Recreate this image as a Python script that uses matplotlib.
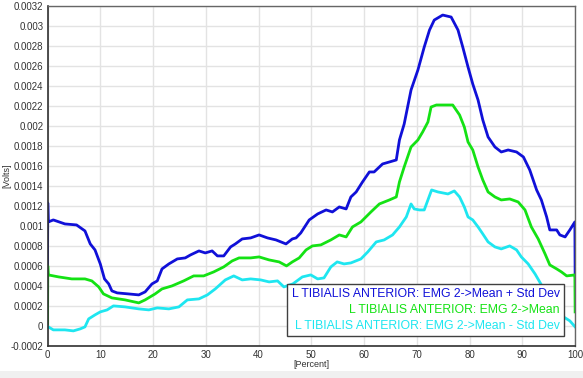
import matplotlib
matplotlib.use("Agg")
import matplotlib.pyplot as plt
from matplotlib.patches import Rectangle
from matplotlib.ticker import FuncFormatter

# mean + std dev
plus_x = [0, 0.05, 0.15, 1.1, 3.3, 5.5, 7.1, 8.1, 9.0, 10.0, 10.8, 11.6, 12.2, 13.2, 15.3, 17.3,
          18.5, 19.8, 20.8, 21.7, 23.0, 24.6, 26.1, 27.1, 28.7, 29.9, 31.2, 32.2, 33.4, 34.7,
          35.6, 36.9, 38.5, 40.1, 41.7, 43.3, 45.2, 46.4, 47.1, 48.0, 49.6, 51.2, 52.8, 54.0,
          55.3, 56.6, 57.5, 58.5, 59.7, 61.0, 61.9, 63.5, 64.8, 66.1, 66.7, 67.6, 68.9, 70.2,
          71.4, 72.4, 73.3, 74.9, 76.5, 77.8, 78.7, 79.7, 80.6, 81.6, 82.5, 83.5, 84.8, 86.0,
          87.3, 88.9, 90.2, 91.4, 92.7, 93.6, 94.6, 95.2, 96.5, 97.1, 98.1, 99.0, 99.95, 100]
plus_y = [0.00060, 0.00123, 0.00104, 0.00106, 0.00102, 0.00101, 0.00095, 0.00082, 0.00076,
          0.00062, 0.00047, 0.00042, 0.00035, 0.00033, 0.00032, 0.00031, 0.00034, 0.00042,
          0.00045, 0.00057, 0.00062, 0.00067, 0.00068, 0.00071, 0.00075, 0.00073, 0.00075,
          0.00070, 0.00070, 0.00079, 0.00082, 0.00087, 0.00088, 0.00091, 0.00088, 0.00086,
          0.00082, 0.00087, 0.00088, 0.00093, 0.00106, 0.00112, 0.00116, 0.00114, 0.00119,
          0.00117, 0.00129, 0.00134, 0.00144, 0.00154, 0.00154, 0.00162, 0.00164, 0.00166,
          0.00186, 0.00202, 0.00236, 0.00256, 0.00279, 0.00296, 0.00306, 0.00311, 0.00309,
          0.00296, 0.00279, 0.00259, 0.00242, 0.00226, 0.00206, 0.00189, 0.00179, 0.00174,
          0.00176, 0.00174, 0.00169, 0.00156, 0.00136, 0.00126, 0.00109, 0.00096, 0.00096,
          0.00091, 0.00089, 0.00096, 0.00104, 0.00050]

# mean
mean_x = [0, 0.05, 0.15, 2.1, 4.6, 7.1, 8.4, 9.7, 10.6, 12.2, 14.7, 17.3, 18.5, 20.4, 21.7,
          23.6, 25.8, 27.7, 29.6, 31.5, 33.4, 35.0, 36.3, 38.5, 40.1, 42.0, 43.9, 45.3, 46.4,
          47.7, 49.0, 50.2, 51.8, 53.7, 55.3, 56.6, 57.8, 59.4, 61.3, 62.9, 64.8, 66.1, 66.7,
          67.6, 68.9, 70.2, 71.1, 72.1, 72.7, 73.7, 75.2, 76.8, 78.1, 79.0, 79.7, 80.6, 81.6,
          82.5, 83.5, 84.8, 86.0, 87.6, 89.2, 90.5, 91.7, 93.0, 94.3, 95.2, 96.5, 97.4, 98.4,
          99.95, 100]
mean_y = [0.00002, 0.00060, 0.00051, 0.00049, 0.00047, 0.00047, 0.00045, 0.00039, 0.00032,
          0.00028, 0.00026, 0.00023, 0.00026, 0.00032, 0.00037, 0.00040, 0.00045, 0.00050,
          0.00050, 0.00054, 0.00059, 0.00065, 0.00068, 0.00068, 0.00069, 0.00066, 0.00064,
          0.00060, 0.00064, 0.00068, 0.00076, 0.00080, 0.00081, 0.00086, 0.00091, 0.00089,
          0.00099, 0.00104, 0.00114, 0.00122, 0.00126, 0.00129, 0.00144, 0.00159, 0.00179,
          0.00186, 0.00194, 0.00204, 0.00219, 0.00221, 0.00221, 0.00221, 0.00211, 0.00199,
          0.00184, 0.00176, 0.00159, 0.00146, 0.00134, 0.00129, 0.00126, 0.00127, 0.00124,
          0.00116, 0.00099, 0.00087, 0.00072, 0.00061, 0.00057, 0.00054, 0.00050, 0.00051,
          0.00014]

# mean - std dev
minus_x = [0, 0.15, 1.1, 3.3, 4.9, 6.2, 7.1, 7.8, 9.0, 10.0, 11.3, 12.5, 14.7, 17.3, 19.2,
           20.8, 23.0, 24.9, 26.5, 28.7, 30.3, 31.8, 33.7, 35.3, 36.9, 38.5, 40.4, 42.0, 43.6,
           44.8, 46.5, 48.3, 49.9, 51.2, 52.4, 53.7, 54.9, 56.2, 57.5, 59.4, 60.7, 62.3, 63.8,
           65.4, 66.7, 68.0, 68.9, 69.5, 70.5, 71.4, 72.1, 72.8, 74.0, 75.9, 77.1, 78.1, 79.0,
           79.7, 80.6, 81.6, 82.5, 83.5, 84.8, 86.0, 87.6, 88.9, 89.8, 91.1, 92.4, 93.5, 95.0,
           96.5, 97.8, 99.0, 100]
minus_y = [-0.00001, -0.00001, -0.00004, -0.00004, -0.00005, -0.00003, -0.00001, 0.00007,
           0.00011, 0.00014, 0.00016, 0.00020, 0.00019, 0.00017, 0.00016, 0.00018, 0.00017,
           0.00019, 0.00026, 0.00027, 0.00031, 0.00037, 0.00046, 0.00050, 0.00046, 0.00047,
           0.00046, 0.00044, 0.00045, 0.00039, 0.00042, 0.00049, 0.00051, 0.00047, 0.00048,
           0.00059, 0.00064, 0.00062, 0.00063, 0.00067, 0.00074, 0.00084, 0.00086, 0.00091,
           0.00099, 0.00109, 0.00122, 0.00117, 0.00116, 0.00116, 0.00126, 0.00136, 0.00134,
           0.00132, 0.00135, 0.00129, 0.00119, 0.00109, 0.00106, 0.00099, 0.00092, 0.00084,
           0.00079, 0.00077, 0.00080, 0.00076, 0.00069, 0.00062, 0.00052, 0.00042, 0.00028,
           0.00018, 0.00009, 0.00005, -0.00001]

labels = ["L TIBIALIS ANTERIOR: EMG 2->Mean + Std Dev",
          "L TIBIALIS ANTERIOR: EMG 2->Mean",
          "L TIBIALIS ANTERIOR: EMG 2->Mean - Std Dev"]
colors = ["#1010d8", "#14e214", "#1ee6f0"]

x_ticks = list(range(0, 101, 10))
y_ticks = [round(-0.0002 + 0.0002 * i, 4) for i in range(18)]

plt.rcParams["font.family"] = ["Liberation Sans", "DejaVu Sans"]

fig = plt.figure(figsize=(5.83, 3.78), dpi=100)
ax = fig.add_axes([0.0815, 0.085, 0.905, 0.899])

# light gray strip along the bottom of the window
fig.patches.append(Rectangle((0, 0), 1, 0.018, transform=fig.transFigure,
                             facecolor="#f0f0f0", edgecolor="none", zorder=0))

for xs, ys, c, lab in zip([plus_x, mean_x, minus_x], [plus_y, mean_y, minus_y], colors, labels):
    ax.plot(xs, ys, color=c, lw=2.0, label=lab, solid_joinstyle="round")

ax.set_xlim(0, 100)
ax.set_ylim(-0.0002, 0.0032)
ax.set_xticks(x_ticks)
ax.set_yticks(y_ticks)
ax.yaxis.set_major_formatter(FuncFormatter(lambda v, p: f"{round(v, 4):g}"))
ax.tick_params(length=0, labelsize=7, pad=3, colors="#333333")
ax.grid(True, color="#e3e3e3", lw=1)
ax.set_axisbelow(True)

for s in ["left", "bottom"]:
    ax.spines[s].set_color("#303030")
    ax.spines[s].set_linewidth(1.2)
for s in ["top", "right"]:
    ax.spines[s].set_color("#666666")
    ax.spines[s].set_linewidth(1.0)

ax.set_xlabel("[Percent]", fontsize=6.5, color="#333333", labelpad=0)
ax.set_ylabel("[Volts]", fontsize=6.5, color="#333333")
ax.yaxis.set_label_coords(-0.068, 0.5)

leg = ax.legend(loc="lower right", bbox_to_anchor=(0.979, 0.029), borderaxespad=0,
                handlelength=0, handletextpad=0, markerfirst=False, labelcolor="linecolor",
                fontsize=8.8, fancybox=False, framealpha=1, edgecolor="#404040",
                labelspacing=0.3, borderpad=0.35)
for h in leg.legend_handles:
    h.set_visible(False)
leg.get_frame().set_linewidth(1.0)

fig.savefig("out.png", dpi=100)
